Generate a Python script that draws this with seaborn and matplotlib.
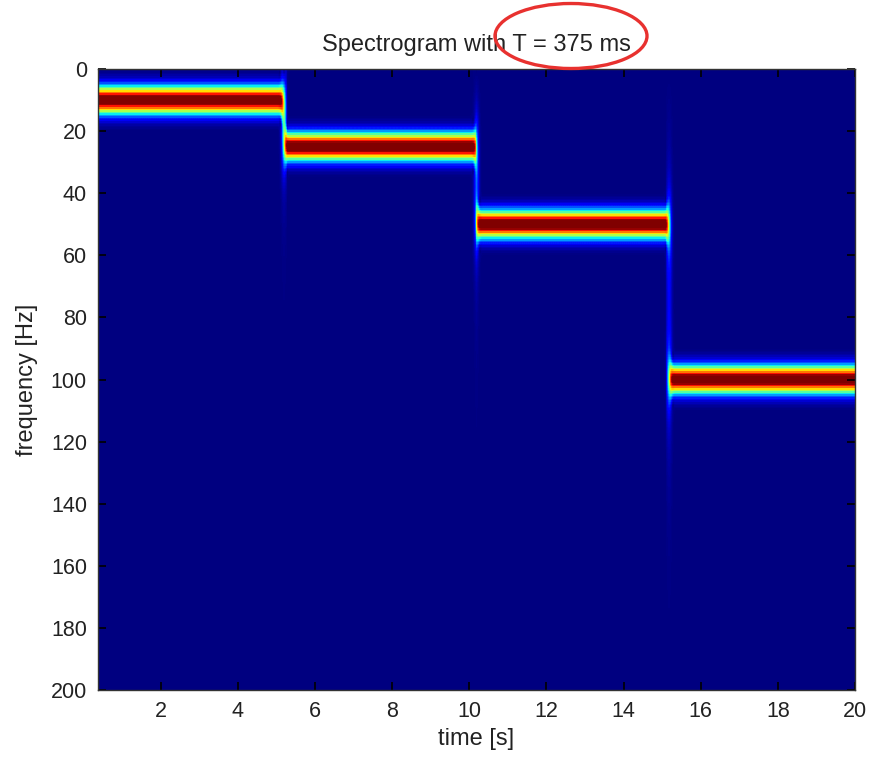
import numpy as np
import matplotlib
matplotlib.use("Agg")
import matplotlib.pyplot as plt
from matplotlib.patches import Ellipse
import seaborn as sns

# Test signal: a sequence of pure tones, one per segment
segment_edges_s = [0.0, 5.0, 10.0, 15.0, 20.0]
segment_freqs_hz = [10.0, 25.0, 50.0, 100.0]
fs_hz = 400.0            # sampling rate (Nyquist = 200 Hz)
window_s = 0.375         # analysis window length T
gauss_alpha = 3.5        # half-length of the Gaussian taper in standard deviations
hop_s = 0.025            # frame hop
nfft = 800               # zero-padded FFT size -> 0.5 Hz bins
color_max = 0.9          # upper colour limit, relative to the peak magnitude

x_ticks = [2, 4, 6, 8, 10, 12, 14, 16, 18, 20]
y_ticks = [0, 20, 40, 60, 80, 100, 120, 140, 160, 180, 200]

# --- build signal -----------------------------------------------------------
t = np.arange(0, segment_edges_s[-1], 1.0 / fs_hz)
f_inst = np.zeros_like(t)
for (a, b), f in zip(zip(segment_edges_s[:-1], segment_edges_s[1:]), segment_freqs_hz):
    f_inst[(t >= a) & (t < b)] = f
sig = np.cos(2 * np.pi * f_inst * t)

# --- short-time Fourier transform (Gaussian window, linear magnitude) -------
nwin = int(round(window_s * fs_hz))
hop = int(round(hop_s * fs_hz))
n = np.arange(nwin) - (nwin - 1) / 2
win = np.exp(-0.5 * (gauss_alpha * n / ((nwin - 1) / 2)) ** 2)
frames = np.lib.stride_tricks.sliding_window_view(sig, nwin)[::hop]
spec = np.abs(np.fft.rfft(frames * win, n=nfft, axis=1)).T
spec /= spec.max()
freqs = np.fft.rfftfreq(nfft, 1.0 / fs_hz)
times = np.arange(frames.shape[0]) * hop_s + window_s   # time stamp = window end
df = freqs[1] - freqs[0]

# --- figure -----------------------------------------------------------------
sns.set_style("ticks")
plt.rcParams["font.family"] = ["Liberation Sans", "DejaVu Sans"]

fig = plt.figure(figsize=(8.7, 7.58), dpi=100)
ax = fig.add_axes([98 / 870, 1 - 690 / 758, (855 - 98) / 870, (690 - 69) / 758])

sns.heatmap(spec, cmap="jet", vmin=0, vmax=color_max, cbar=False, ax=ax,
            xticklabels=False, yticklabels=False, rasterized=True,
            linewidths=0)

def tpos(v):
    return (v - times[0]) / hop_s + 0.5

def fpos(v):
    return v / df + 0.5

ax.set_xlim(tpos(times[0]), tpos(times[-1]))
ax.set_ylim(fpos(200), fpos(0))
ax.set_xticks([tpos(v) for v in x_ticks])
ax.set_xticklabels([str(v) for v in x_ticks], rotation=0)
ax.set_yticks([fpos(v) for v in y_ticks])
ax.set_yticklabels([str(v) for v in y_ticks], rotation=0)
ax.set_axisbelow(False)

ax.tick_params(direction="in", top=True, right=True, length=6, width=1.2,
               color="black", labelsize=15.5, labelcolor="#222222", pad=8)
for sp in ax.spines.values():
    sp.set_visible(True)
    sp.set_color("#333333")
    sp.set_linewidth(1.0)
    sp.set_zorder(5)

ax.set_xlabel("time [s]", fontsize=17, color="#222222", labelpad=4)
ax.set_ylabel("frequency [Hz]", fontsize=17, color="#222222", labelpad=9)
ax.set_title("Spectrogram with T = 375 ms", fontsize=17, color="#222222", pad=13)

# highlight around the window length in the title
fig.add_artist(Ellipse((571 / 870, 1 - 36 / 758), 152 / 870, 65 / 758,
                       transform=fig.transFigure, fill=False,
                       edgecolor="#e8312f", linewidth=2.4, clip_on=False))

fig.savefig("out.png", dpi=100)
